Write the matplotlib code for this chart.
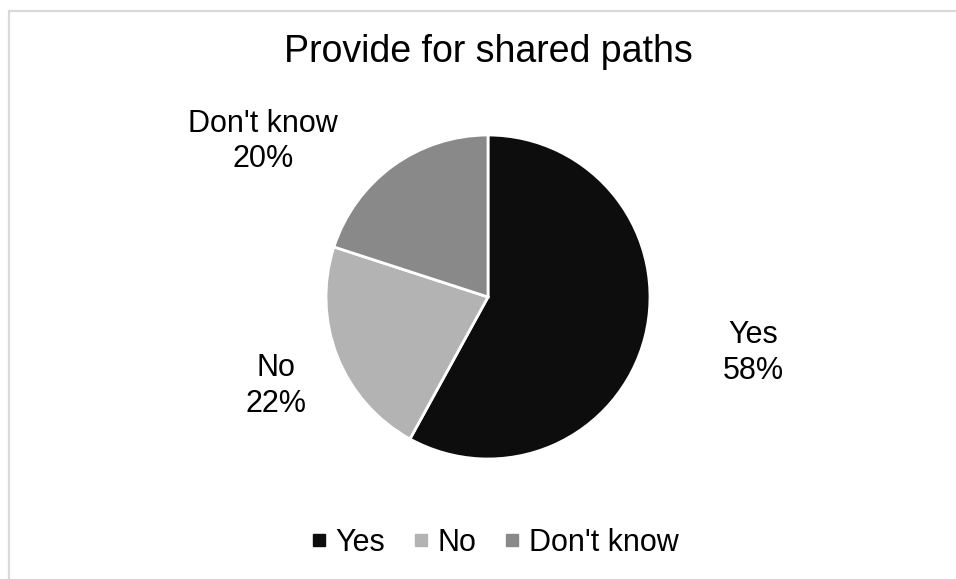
import matplotlib
matplotlib.use("Agg")
import matplotlib.pyplot as plt
from matplotlib.patches import Rectangle
from matplotlib.lines import Line2D

plt.rcParams['font.family'] = ['Liberation Sans', 'DejaVu Sans']

# Survey answers
categories = ["Yes", "No", "Don't know"]
shares = [58, 22, 20]
colors = ["#0d0d0d", "#b3b3b3", "#898989"]
title = "Provide for shared paths"

W, H, DPI = 956, 579, 100
fig = plt.figure(figsize=(W / DPI, H / DPI), dpi=DPI)

# light chart-area frame
fig.add_artist(Rectangle((8.5 / W, -0.1), 1.2, 1 - 11 / H + 0.1,
                         transform=fig.transFigure, fill=False,
                         edgecolor="#d9d9d9", linewidth=1.6))

cx, cy, r = 488, 297, 162
ax = fig.add_axes([(cx - r) / W, (H - cy - r) / H, 2 * r / W, 2 * r / H])
wedges, _ = ax.pie(shares, colors=colors, startangle=90, counterclock=False,
                   radius=1, wedgeprops=dict(edgecolor="white", linewidth=2.0))
ax.set_xlim(-1, 1)
ax.set_ylim(-1, 1)
ax.set_aspect("auto")
ax.axis("off")

# data label placement (data units of the pie axes)
label_pos = [(1.636, -0.347), (-1.309, -0.551), (-1.389, 0.96)]
for name, val, (lx, ly) in zip(categories, shares, label_pos):
    ax.text(lx, ly, f"{name}\n{val}%", ha="center", va="center",
            fontsize=22, color="#000000", linespacing=1.25, clip_on=False)

fig.text(cx / W, 1 - 62 / H, title, ha="center", va="baseline",
         fontsize=27, color="#000000")

handles = [Line2D([], [], marker="s", linestyle="none", markersize=8.6,
                  markerfacecolor=c, markeredgecolor=c) for c in colors]
fig.legend(handles, categories, loc="center", bbox_to_anchor=(494 / W, 1 - 543 / H),
           ncol=3, frameon=False, fontsize=22, handlelength=0.6,
           handletextpad=0.23, columnspacing=0.89, borderaxespad=0)

fig.savefig("out.png", dpi=DPI, facecolor="white")
